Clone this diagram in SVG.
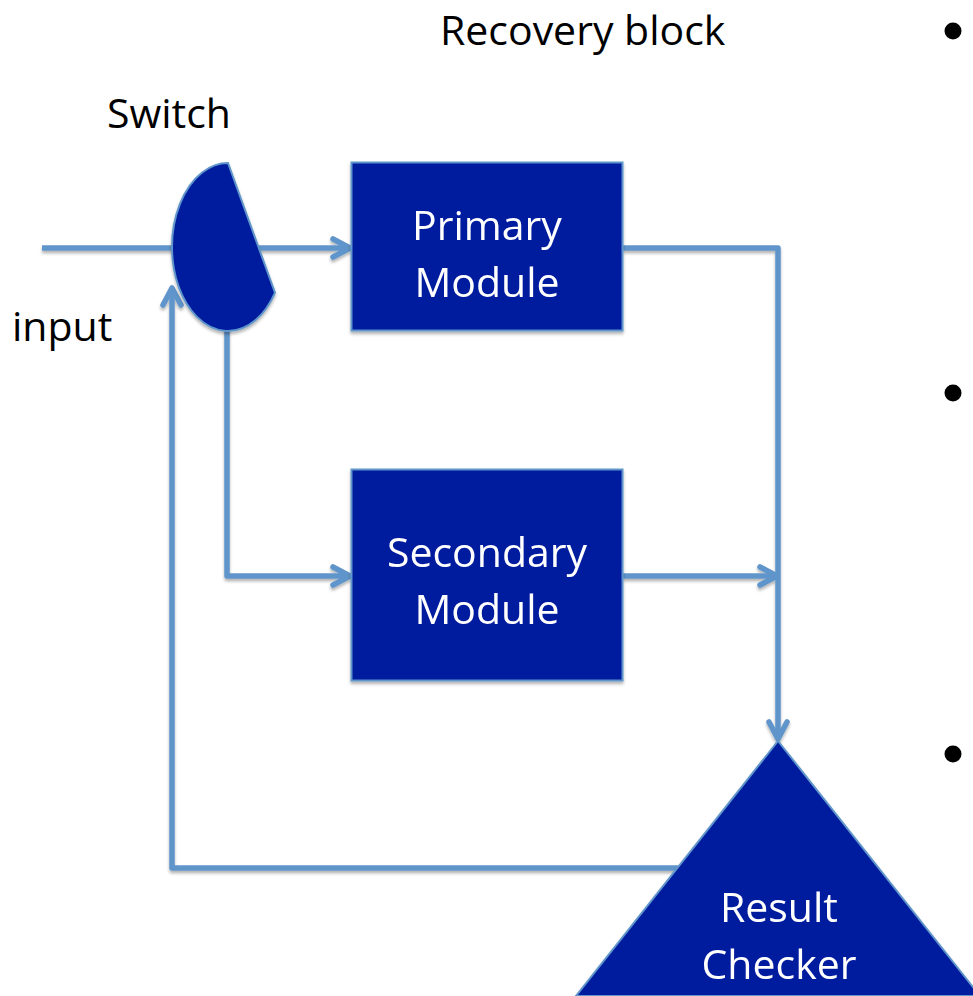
<svg xmlns="http://www.w3.org/2000/svg" width="973" height="996" viewBox="0 0 973 996">
  <defs>
    <style>
      .lbl { font-family: "Open Sans", "Liberation Sans", sans-serif; font-size: 41px; fill: #000000; }
      .in { font-family: "Open Sans", "Liberation Sans", sans-serif; font-size: 41px; fill: #ffffff; text-anchor: middle; }
      .shape { fill: #001A9E; stroke: #5F95CA; stroke-width: 2; }
      .wire { fill: none; stroke: #5F95CA; stroke-width: 5.5; stroke-linejoin: round; }
    </style>
    <filter id="shadow" x="-10%" y="-10%" width="120%" height="130%">
      <feDropShadow dx="0" dy="2.5" stdDeviation="1.8" flood-color="#000000" flood-opacity="0.3"/>
    </filter>
    <marker id="chevron" viewBox="-22 -12 26 24" markerWidth="26" markerHeight="24" refX="0" refY="0" orient="auto" markerUnits="userSpaceOnUse">
      <path d="M-17,-9 L0,0 L-17,9" fill="none" stroke="#5F95CA" stroke-width="5.5" stroke-linecap="round" stroke-linejoin="round"/>
    </marker>
  </defs>

  <rect width="973" height="996" fill="#ffffff"/>

  <!-- free-standing labels and bullet points -->
  <text class="lbl" x="440" y="45">Recovery block</text>
  <text class="lbl" x="107" y="128">Switch</text>
  <text class="lbl" x="12" y="341">input</text>
  <circle cx="953" cy="31" r="8.5" fill="#000000"/>
  <circle cx="953" cy="393" r="8.5" fill="#000000"/>
  <circle cx="953" cy="754" r="8.5" fill="#000000"/>

  <!-- connectors -->
  <g id="connectors" class="wire" filter="url(#shadow)">
    <path d="M42,248 L200,248"/>
    <path d="M228,248 L350,248" marker-end="url(#chevron)"/>
    <path d="M227,300 L227,576 L350,576" marker-end="url(#chevron)"/>
    <path d="M623,248 L778,248 L778,739" marker-end="url(#chevron)"/>
    <path d="M623,576 L777,576" marker-end="url(#chevron)"/>
    <path d="M678,868 L172,868 L172,288" marker-end="url(#chevron)"/>
  </g>

  <!-- switch -->
  <g id="switch" filter="url(#shadow)">
    <path class="shape" d="M228,163 L275,292.7 A56,84 0 1 1 228,163 Z"/>
  </g>

  <!-- primary module -->
  <g id="primary-module" filter="url(#shadow)">
    <rect class="shape" x="351.5" y="162.5" width="271" height="168"/>
    <text class="in" x="487" y="240">Primary</text>
    <text class="in" x="487" y="297">Module</text>
  </g>

  <!-- secondary module -->
  <g id="secondary-module" filter="url(#shadow)">
    <rect class="shape" x="351.5" y="469.5" width="271" height="211"/>
    <text class="in" x="487" y="567">Secondary</text>
    <text class="in" x="487" y="624">Module</text>
  </g>

  <!-- result checker -->
  <g id="result-checker" filter="url(#shadow)">
    <path class="shape" d="M778,741 L980,996 L576,996 Z"/>
    <text class="in" x="779" y="922">Result</text>
    <text class="in" x="779" y="979">Checker</text>
  </g>
</svg>
